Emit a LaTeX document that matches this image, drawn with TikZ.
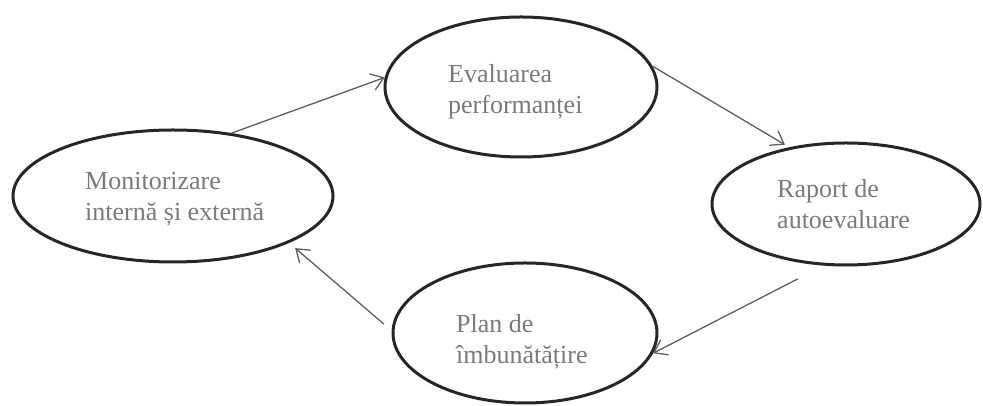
\documentclass[tikz,border=0pt]{standalone}
\usepackage{fontspec}
\setmainfont{Liberation Serif}
\usetikzlibrary{arrows.meta,shapes.geometric}
\definecolor{ink}{HTML}{262626}
\definecolor{txt}{HTML}{7A7A7A}
\definecolor{arr}{HTML}{5E5E5E}
\begin{document}
\begin{tikzpicture}[x=1pt,y=1pt,
  stage/.style={ellipse, draw=ink, line width=3pt},
  lbl/.style={anchor=north west, inner sep=0pt, align=left, text=txt, font=\fontsize{26}{31}\selectfont},
  flow/.style={draw=arr, line width=1.3pt, -{Straight Barb[length=12pt,width=17pt]}}]
\useasboundingbox (0,0) rectangle (983,406);
\node[stage, minimum width=320pt, minimum height=132pt] (m) at (173,210) {};
\node[stage, minimum width=272pt, minimum height=140pt] (e) at (521,319) {};
\node[stage, minimum width=268pt, minimum height=122pt] (r) at (846,202) {};
\node[stage, minimum width=264pt, minimum height=140pt] (p) at (525,73) {};
\node[lbl] (mt) at (85,233.8) {Monitorizare\\internă și externă};
\node[lbl] (et) at (448,342.1) {Evaluarea\\performanței};
\node[lbl] (rt) at (777,227.1) {Raport de\\autoevaluare};
\node[lbl] (pt) at (456,92.1) {Plan de\\îmbunătățire};
\draw[flow] (m.47) -- (e.176);
\draw[flow, shorten >=5pt] (e.9) -- (r.135);
\draw[flow, shorten <=29pt] (r.-110) -- (p.-9);
\draw[flow, shorten <=10pt, shorten >=8pt] (p.179) -- (m.-22);
\end{tikzpicture}
\end{document}
